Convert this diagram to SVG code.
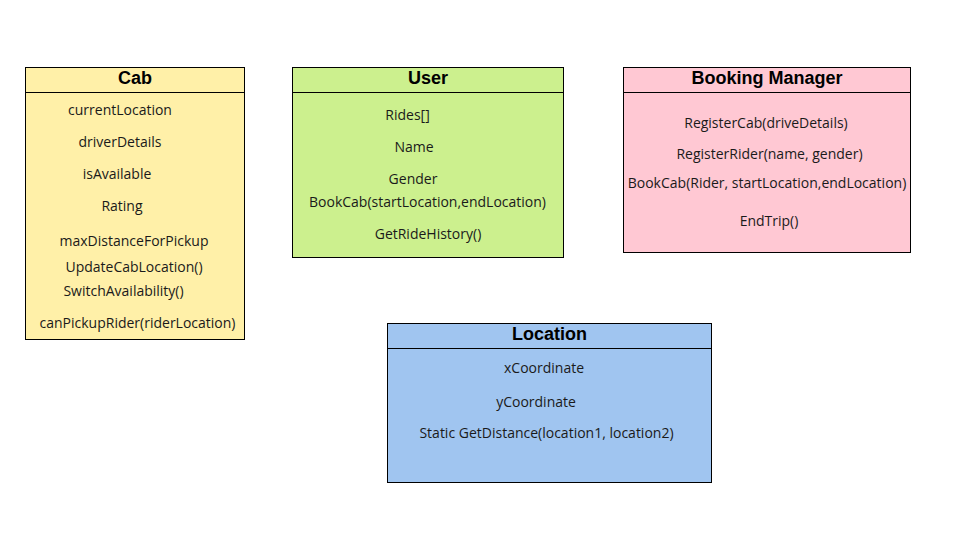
<svg xmlns="http://www.w3.org/2000/svg" width="958" height="547" viewBox="0 0 958 547">
<style>
.box{stroke:#000;stroke-width:1}
.sep{stroke:#000;stroke-width:1}
.title{font-family:"Liberation Sans",Arial,sans-serif;font-weight:bold;font-size:18px;fill:#000;text-anchor:middle}
.t{font-family:"Open Sans","Noto Sans",sans-serif;font-size:14px;fill:#1a1a1a;text-anchor:middle}
</style>
<rect width="958" height="547" fill="#fff"/>
<g id="cab">
<rect class="box" x="25.5" y="67.5" width="219" height="272" fill="#fff0a8"/>
<line class="sep" x1="25.5" y1="92.5" x2="244.5" y2="92.5"/>
<text class="title" x="135" y="84">Cab</text>
<text class="t" x="120" y="115">currentLocation</text>
<text class="t" x="120" y="147">driverDetails</text>
<text class="t" x="117" y="179">isAvailable</text>
<text class="t" x="122" y="211">Rating</text>
<text class="t" x="134" y="246">maxDistanceForPickup</text>
<text class="t" x="134" y="272">UpdateCabLocation()</text>
<text class="t" x="123.5" y="296">SwitchAvailability()</text>
<text class="t" x="137.5" y="328">canPickupRider(riderLocation)</text>
</g>
<g id="user">
<rect class="box" x="292.5" y="67.5" width="271" height="190" fill="#ccf08e"/>
<line class="sep" x1="292.5" y1="92.5" x2="563.5" y2="92.5"/>
<text class="title" x="428" y="84">User</text>
<text class="t" x="407.5" y="120">Rides[]</text>
<text class="t" x="414" y="152">Name</text>
<text class="t" x="413" y="184">Gender</text>
<text class="t" x="427.5" y="207">BookCab(startLocation,endLocation)</text>
<text class="t" x="428" y="239">GetRideHistory()</text>
</g>
<g id="booking-manager">
<rect class="box" x="623.5" y="67.5" width="287" height="185" fill="#ffc8d3"/>
<line class="sep" x1="623.5" y1="92.5" x2="910.5" y2="92.5"/>
<text class="title" x="767" y="84">Booking Manager</text>
<text class="t" x="766" y="128">RegisterCab(driveDetails)</text>
<text class="t" x="769.5" y="159">RegisterRider(name, gender)</text>
<text class="t" x="767" y="188">BookCab(Rider, startLocation,endLocation)</text>
<text class="t" x="769" y="226">EndTrip()</text>
</g>
<g id="location">
<rect class="box" x="387.5" y="323.5" width="324" height="159" fill="#a0c5f0"/>
<line class="sep" x1="387.5" y1="348.5" x2="711.5" y2="348.5"/>
<text class="title" x="549.5" y="340">Location</text>
<text class="t" x="544" y="373">xCoordinate</text>
<text class="t" x="536" y="407">yCoordinate</text>
<text class="t" x="546.5" y="438">Static GetDistance(location1, location2)</text>
</g>
<g id="connectors"></g>
</svg>
